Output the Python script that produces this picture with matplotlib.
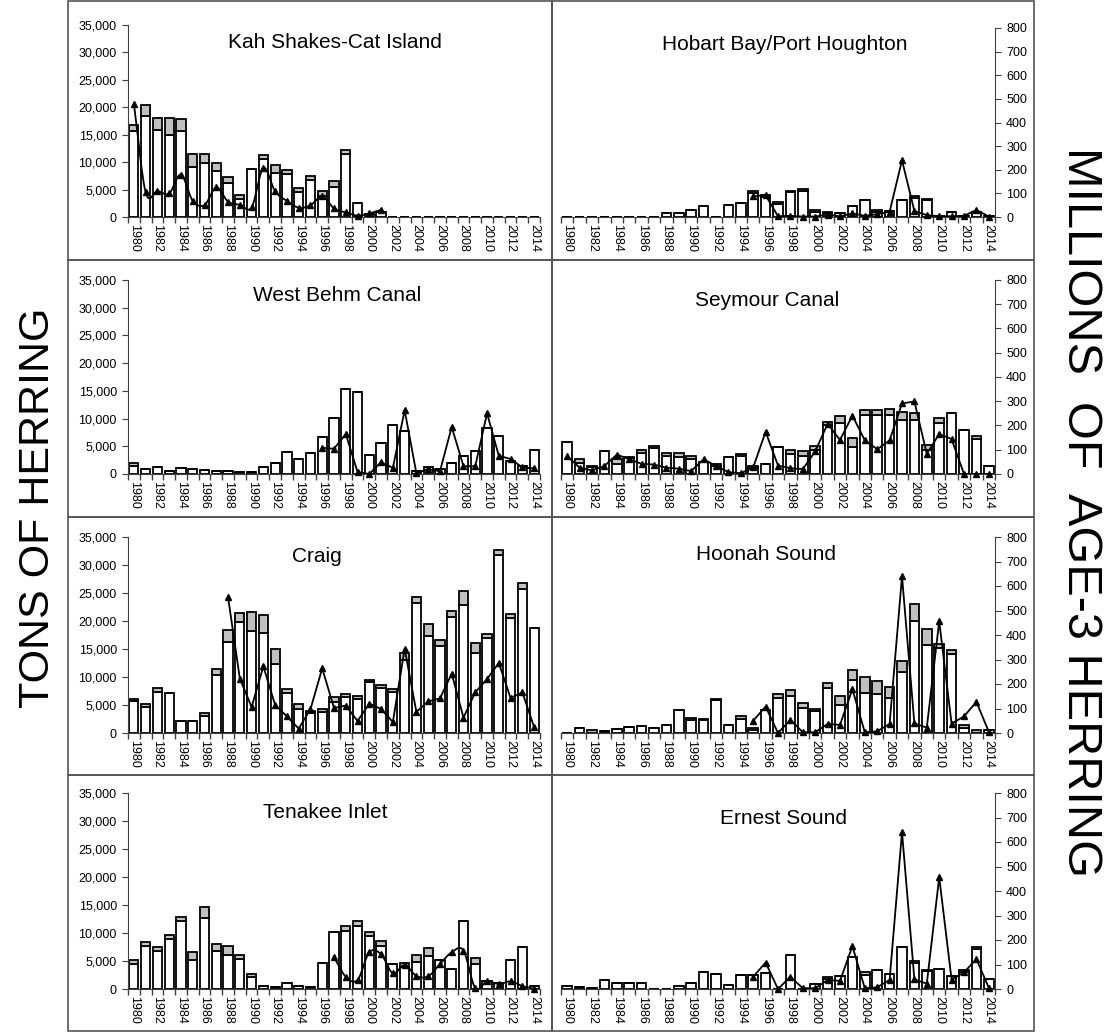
import numpy as np
import matplotlib
matplotlib.use("Agg")
import matplotlib.pyplot as plt
from matplotlib.patches import Rectangle
from matplotlib.ticker import FuncFormatter

plt.rcParams['font.family'] = ['Liberation Sans', 'DejaVu Sans']

years = list(range(1980, 2015))
nan = np.nan

# tons of herring (white part + grey part of each bar), millions of age-3 herring (line)
kah_white = [15600, 18500, 15800, 14900, 15600, 9200, 9900, 8400, 6200, 3300,
             8700, 10500, 8100, 7800, 4500, 6700, 3900, 5400, 11500, 2500,
             600, 1000, 0, 0, 0, 0, 0, 0, 0, 0, 0, 0, 0, 0, 0]
kah_gray = [1100, 1900, 2300, 3200, 2300, 2300, 1600, 1500, 1100, 800,
            0, 800, 1400, 800, 800, 700, 800, 1200, 700, 0,
            0, 0, 0, 0, 0, 0, 0, 0, 0, 0, 0, 0, 0, 0, 0]
kah_line = [471, 103, 108, 98, 177, 67, 50, 123, 64, 51,
            40, 204, 107, 67, 39, 49, 86, 36, 19, 6,
            15, 30] + [nan] * 13

hob_white = [0, 0, 0, 0, 0, 0, 0, 0, 660, 790,
             1230, 1970, 0, 2280, 2540, 4380, 3720, 2410, 4590, 4900,
             960, 660, 790, 2100, 3150, 960, 1090, 3150, 3500, 3060,
             220, 880, 220, 960, 220]
hob_gray = [0, 0, 0, 0, 0, 0, 0, 0, 0, 0,
            0, 0, 0, 0, 0, 440, 350, 310, 310, 350,
            350, 310, 0, 0, 0, 350, 0, 0, 350, 350,
            0, 0, 0, 0, 0]
hob_line = [nan] * 15 + [88, 92, 3, 5, 2, 2, 10, 3, 15, 5,
                         12, 22, 240, 25, 8, 3, 3, 5, 30, 2]

wb_white = [1400, 850, 1300, 600, 1000, 850, 700, 600, 600, 350,
            350, 1300, 1900, 4000, 2700, 3800, 6700, 10100, 15400, 14800,
            3500, 5600, 8800, 7800, 500, 1200, 900, 2000, 3200, 4200,
            8300, 6800, 2300, 1400, 4300]
wb_gray = [500] + [0] * 34
wb_line = [nan] * 16 + [108, 104, 165, 8, 0, 49, 25, 263, 3, 21,
                        11, 194, 32, 32, 250, 75, 62, 27, 23]

sey_white = [5820, 2010, 1230, 4110, 1840, 2890, 3810, 4680, 3190, 3150,
             2760, 2190, 1440, 3020, 3190, 1140, 1750, 4940, 3630, 3330,
             4330, 8790, 9280, 4940, 10590, 10590, 10590, 9800, 9760, 4240,
             9280, 10940, 7920, 6260, 1360]
sey_gray = [0, 740, 220, 0, 920, 180, 570, 390, 660, 610,
            570, 0, 390, 0, 480, 390, 0, 0, 610, 790,
            660, 660, 1270, 1490, 920, 1010, 1180, 1400, 1180, 1050,
            830, 0, 0, 570, 0]
sey_line = [73, 26, 15, 33, 80, 61, 42, 39, 26, 22,
            12, 61, 33, 8, 3, 27, 174, 35, 24, 20,
            93, 207, 140, 241, 139, 102, 139, 291, 299, 83,
            165, 144, 0, 0, 0]

craig_white = [5800, 4600, 7400, 7100, 2100, 2100, 3100, 10400, 16300, 19800,
               18300, 17900, 12400, 7100, 4300, 3600, 3700, 5500, 6400, 6000,
               9100, 8000, 7400, 13100, 23300, 17400, 15500, 20700, 22900, 14200,
               17000, 31800, 20500, 25700, 18800]
craig_gray = [300, 500, 600, 0, 0, 0, 400, 1100, 2100, 1700,
              3300, 3200, 2600, 800, 900, 400, 500, 1000, 600, 600,
              400, 500, 500, 1100, 1000, 2100, 1100, 1100, 2400, 1800,
              600, 800, 800, 1100, 0]
craig_line = [nan] * 8 + [555, 222, 106, 272, 114, 68, 18, 97, 264, 102,
                          112, 49, 120, 98, 45, 344, 86, 129, 141, 242,
                          63, 166, 220, 286, 143, 166, 24]

hoo_white = [0, 880, 0, 350, 700, 1050, 1180, 960, 1490, 4160,
             2360, 2280, 5820, 1360, 2540, 530, 4160, 6210, 6520, 4550,
             3850, 8010, 5030, 9490, 7220, 7000, 6210, 10850, 20040, 15660,
             15140, 14040, 960, 0, 610]
hoo_gray = [0, 0, 610, 0, 0, 0, 0, 0, 0, 0,
            310, 220, 310, 0, 480, 310, 0, 830, 1140, 830,
            480, 880, 1660, 1790, 2760, 2360, 1970, 2010, 2930, 2890,
            740, 740, 480, 610, 0]
hoo_line = [nan] * 15 + [50, 108, 0, 54, 3, 3, 37, 33, 179, 3,
                         7, 37, 640, 39, 22, 456, 38, 68, 127, 5]

ten_white = [4500, 7600, 6700, 9000, 12100, 5100, 12600, 6700, 6100, 5400,
             2200, 500, 300, 1000, 500, 300, 4700, 10100, 10400, 11200,
             9400, 7600, 4400, 4000, 4800, 5900, 5200, 3500, 12100, 4400,
             1400, 1000, 5200, 7500, 500]
ten_gray = [600, 800, 800, 700, 700, 1500, 2000, 1300, 1600, 700,
            500, 0, 0, 0, 0, 0, 0, 0, 800, 900,
            700, 900, 0, 700, 1300, 1400, 0, 0, 0, 1100,
            0, 0, 0, 0, 0]
ten_line = [nan] * 17 + [130, 50, 37, 150, 142, 64, 98, 53, 52,
                         102, 150, 157, 4, 31, 20, 31, 12, 1]

ern_white = [530, 390, 220, 1660, 1010, 1010, 1010, 0, 0, 570,
             1010, 3060, 2670, 790, 2580, 2580, 2930, 0, 6080, 0,
             960, 1750, 2360, 5730, 2540, 3330, 2670, 7440, 4730, 3150,
             3540, 2360, 3060, 7220, 1750]
ern_gray = [0, 0, 0, 0, 0, 0, 0, 0, 0, 0,
            0, 0, 0, 0, 0, 0, 0, 0, 0, 0,
            0, 310, 0, 0, 530, 0, 0, 0, 220, 260,
            0, 0, 310, 350, 0]
ern_line = [nan] * 15 + [50, 108, 0, 50, 3, 3, 37, 33, 175, 3,
                         7, 37, 640, 39, 22, 456, 38, 68, 122, 5]

panels = [
    ("Kah Shakes-Cat Island", kah_white, kah_gray, kah_line, 0, 0, True, (335, 43)),
    ("Hobart Bay/Port Houghton", hob_white, hob_gray, hob_line, 1, 0, False, (785, 45)),
    ("West Behm Canal", wb_white, wb_gray, wb_line, 0, 1, False, (337, 295)),
    ("Seymour Canal", sey_white, sey_gray, sey_line, 1, 1, False, (767, 300)),
    ("Craig", craig_white, craig_gray, craig_line, 0, 2, False, (317, 557)),
    ("Hoonah Sound", hoo_white, hoo_gray, hoo_line, 1, 2, False, (766, 555)),
    ("Tenakee Inlet", ten_white, ten_gray, ten_line, 0, 3, True, (325, 812)),
    ("Ernest Sound", ern_white, ern_gray, ern_line, 1, 3, False, (783, 818)),
]

W, H = 1106, 1032
col_x = [(128, 540), (561, 995)]
row_y = [(25, 217), (280, 474), (537, 733), (793, 989)]
box_x = [(68, 552), (552, 1034)]
box_y = [(1, 260), (260, 517), (517, 775), (775, 1031)]
axis_col = '#404040'


def smooth(x, y, n=12):
    # Catmull-Rom curve through the points, like Excel's smoothed line
    x = np.asarray(x, float)
    y = np.asarray(y, float)
    px = np.concatenate([[2 * x[0] - x[1]], x, [2 * x[-1] - x[-2]]])
    py = np.concatenate([[2 * y[0] - y[1]], y, [2 * y[-1] - y[-2]]])
    xs, ys = [], []
    t = np.linspace(0, 1, n, endpoint=False)
    for i in range(1, len(px) - 2):
        for P, out in ((px, xs), (py, ys)):
            p0, p1, p2, p3 = P[i - 1], P[i], P[i + 1], P[i + 2]
            out.extend(0.5 * (2 * p1 + (-p0 + p2) * t + (2 * p0 - 5 * p1 + 4 * p2 - p3) * t ** 2
                              + (-p0 + 3 * p1 - 3 * p2 + p3) * t ** 3))
    xs.append(x[-1])
    ys.append(y[-1])
    return np.array(xs), np.array(ys)


fig = plt.figure(figsize=(W / 100, H / 100), dpi=100)

for c in range(2):
    for r in range(4):
        x0, x1 = box_x[c]
        y0, y1 = box_y[r]
        fig.add_artist(Rectangle((x0 / W, 1 - y1 / H), (x1 - x0) / W, (y1 - y0) / H,
                                 transform=fig.transFigure, fill=False,
                                 edgecolor='#555555', lw=1.2))

for name, white, gray, line, c, r, smooth_line, (tx, ty) in panels:
    xl, xr = col_x[c]
    yt, yb = row_y[r]
    if c == 1 and r == 0:
        yt = 28
    ax = fig.add_axes([xl / W, 1 - yb / H, (xr - xl) / W, (yb - yt) / H])
    ax.patch.set_alpha(0)
    white = np.array(white)
    gray = np.array(gray)
    ax.bar(years, white, width=0.78, color='white', edgecolor='black', lw=1.3, zorder=2)
    ax.bar(years, gray, bottom=white, width=0.78, color='#c0c0c0', edgecolor='black', lw=1.3, zorder=2)
    ax.set_ylim(0, 35000)
    ax.set_xlim(1979.5, 2014.5)
    ax.set_xticks(np.arange(1979.5, 2015, 1))
    ax.set_xticklabels([])
    ax.set_xticks(years[::2], minor=True)
    ax.set_xticklabels([str(y) for y in years[::2]], minor=True, rotation=-90, fontsize=9)
    ax.tick_params(axis='x', which='major', direction='out', length=4, width=1, color=axis_col)
    ax.tick_params(axis='x', which='minor', length=0, pad=5)
    for s in ['top', 'right']:
        ax.spines[s].set_visible(False)
    ax.spines['bottom'].set_color(axis_col)
    ax.spines['left'].set_color(axis_col)

    ax2 = ax.twinx()
    ax2.set_ylim(0, 800)
    for s in ['top', 'left', 'bottom']:
        ax2.spines[s].set_visible(False)
    ax2.spines['right'].set_color(axis_col)

    if c == 0:
        ax.set_yticks(np.arange(0, 35001, 5000))
        ax.yaxis.set_major_formatter(FuncFormatter(lambda v, p: f"{int(v):,}"))
        ax.tick_params(axis='y', direction='out', length=4, color=axis_col, labelsize=9, pad=4)
        ax2.spines['right'].set_visible(False)
        ax2.set_yticks([])
    else:
        ax.spines['left'].set_visible(False)
        ax.set_yticks([])
        ax2.set_yticks(np.arange(0, 801, 100))
        ax2.tick_params(axis='y', direction='out', length=4, color=axis_col, labelsize=9, pad=4)

    yl = np.array(line, float)
    ok = ~np.isnan(yl)
    xv = np.array(years)[ok]
    yv = yl[ok]
    if smooth_line:
        sx, sy = smooth(xv, yv)
        sy = np.clip(sy, 0, None)
        ax2.plot(sx, sy, color='black', lw=1.3, zorder=3)
    else:
        ax2.plot(xv, yv, color='black', lw=1.3, zorder=3)
    ax2.plot(xv, yv, ls='none', marker='^', ms=4.5, color='black', zorder=4, clip_on=False)

    fig.text(tx / W, 1 - ty / H, name, ha='center', va='center', fontsize=15)

fig.text(38 / W, 1 - 508 / H, "TONS OF HERRING", rotation=90, ha='center', va='center', fontsize=31)
fig.text(1080 / W, 1 - 512 / H, "MILLIONS  OF  AGE-3 HERRING", rotation=-90,
         ha='center', va='center', fontsize=35)

fig.savefig("out.png", dpi=100)
